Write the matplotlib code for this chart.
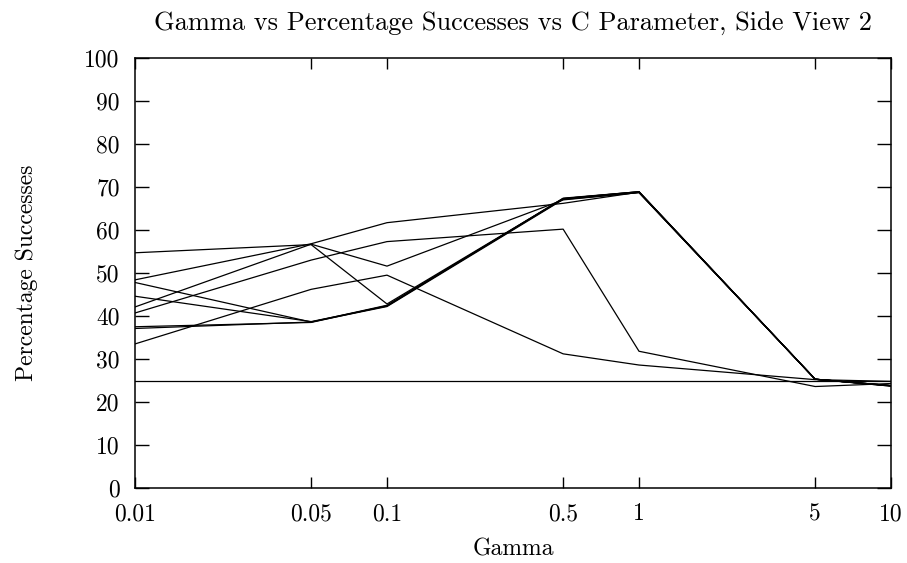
import matplotlib
matplotlib.use('Agg')
import matplotlib.pyplot as plt
from matplotlib.ticker import NullLocator

plt.rcParams['font.family'] = 'serif'
plt.rcParams['font.serif'] = ['cmr10', 'DejaVu Serif']
plt.rcParams['mathtext.fontset'] = 'cm'
plt.rcParams['axes.unicode_minus'] = False

# gamma values (log x axis)
gamma = [0.01, 0.05, 0.1, 0.5, 1, 5, 10]
gamma_labels = ['0.01', '0.05', '0.1', '0.5', '1', '5', '10']

# percentage successes, one list per C parameter value
c_runs = [
    [54.7, 56.6, 42.8, 67.3, 68.9, 25.3, 23.8],
    [48.4, 56.8, 61.7, 66.2, 68.8, 25.3, 23.8],
    [42.1, 56.7, 51.6, 67.0, 68.7, 25.3, 23.8],
    [40.7, 53.0, 57.3, 60.2, 31.8, 23.6, 24.3],
    [33.5, 46.2, 49.5, 31.2, 28.6, 25.2, 24.8],
    [47.8, 38.6, 42.5, 67.3, 68.9, 25.3, 23.7],
    [44.6, 38.7, 42.3, 67.4, 68.9, 25.3, 23.8],
    [37.5, 38.5, 42.4, 67.2, 68.8, 25.3, 23.7],
    [37.1, 38.6, 42.2, 67.1, 68.7, 25.3, 23.8],
    [25.0, 25.0, 25.0, 25.0, 25.0, 25.0, 25.0],
]

fig = plt.figure(figsize=(9.07, 5.63), dpi=100)
ax = fig.add_axes([0.1488, 0.1332, 0.8336, 0.7638])

for run in c_runs:
    ax.plot(gamma, run, color='black', linewidth=0.9)

ax.set_xscale('log')
ax.set_xlim(0.01, 10)
ax.set_ylim(0, 100)

ax.set_xticks(gamma)
ax.set_xticklabels(gamma_labels)
ax.xaxis.set_minor_locator(NullLocator())
ax.set_yticks(range(0, 101, 10))

ax.tick_params(axis='both', which='major', direction='in', labelsize=17,
               top=True, right=True, width=1)
ax.tick_params(axis='x', length=8, pad=11)
ax.tick_params(axis='y', length=10, pad=11)

for sp in ax.spines.values():
    sp.set_linewidth(1.1)

ax.set_title('Gamma vs Percentage Successes vs C Parameter, Side View 2',
             fontsize=19, pad=20)
ax.set_xlabel('Gamma', fontsize=17, labelpad=9)
ax.set_ylabel('Percentage Successes', fontsize=17, labelpad=33)

plt.savefig('out.png', dpi=100)
